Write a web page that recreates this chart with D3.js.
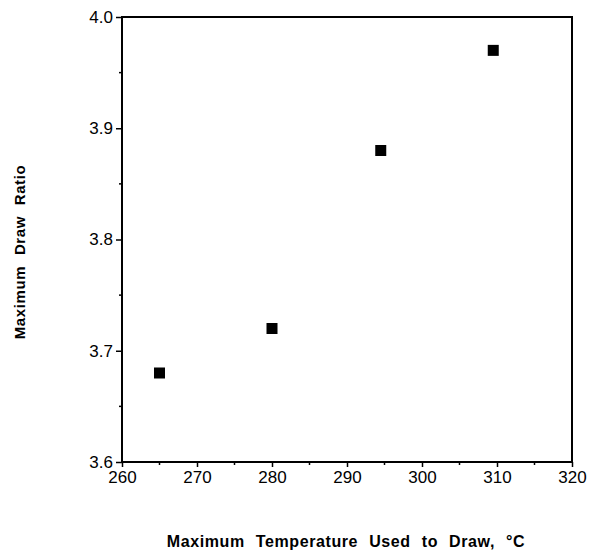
<!DOCTYPE html>
<html>
<head>
<meta charset="utf-8">
<script src="https://cdn.jsdelivr.net/npm/d3@7"></script>
<style>
  body { margin: 0; background: #fff; }
  text { font-family: "Liberation Sans", Arial, sans-serif; fill: #000; }
</style>
</head>
<body>
<div id="chart"></div>
<script>
// data
var temps = [265, 280, 294.5, 309.5];
var ratios = [3.68, 3.72, 3.88, 3.97];
var xTicks = [260, 270, 280, 290, 300, 310, 320];
var yTicks = [3.6, 3.7, 3.8, 3.9, 4.0];

var w = 592, h = 550;
var plotL = 122, plotR = 572, plotT = 17, plotB = 462;

var svg = d3.select("#chart").append("svg")
  .attr("width", w)
  .attr("height", h);

var x = d3.scaleLinear().domain([260, 320]).range([plotL, plotR]);
var y = d3.scaleLinear().domain([3.6, 4.0]).range([plotB, plotT]);

// frame
svg.append("rect")
  .attr("x", plotL).attr("y", plotT)
  .attr("width", plotR - plotL).attr("height", plotB - plotT)
  .attr("fill", "none").attr("stroke", "#000").attr("stroke-width", 2);

// minor ticks
var xMinor = d3.range(265, 320, 10);
svg.append("g").selectAll("line").data(xMinor).enter().append("line")
  .attr("x1", d => x(d)).attr("x2", d => x(d))
  .attr("y1", plotB).attr("y2", plotB + 3)
  .attr("stroke", "#000").attr("stroke-width", 1.5);
var yMinor = [3.65, 3.75, 3.85, 3.95];
svg.append("g").selectAll("line").data(yMinor).enter().append("line")
  .attr("x1", plotL - 3).attr("x2", plotL)
  .attr("y1", d => y(d)).attr("y2", d => y(d))
  .attr("stroke", "#000").attr("stroke-width", 1.5);

var xAxis = d3.axisBottom(x).tickValues(xTicks).tickSize(5).tickPadding(4)
  .tickFormat(d3.format("d"));
var yAxis = d3.axisLeft(y).tickValues(yTicks).tickSize(6).tickPadding(3)
  .tickFormat(d3.format(".1f"));

var gx = svg.append("g")
  .attr("transform", "translate(0," + plotB + ")")
  .call(xAxis);
var gy = svg.append("g")
  .attr("transform", "translate(" + plotL + ",0)")
  .call(yAxis);

[gx, gy].forEach(function(g) {
  g.select(".domain").remove();
  g.selectAll(".tick line").attr("stroke", "#000").attr("stroke-width", 1.5);
  g.selectAll(".tick text").attr("font-size", "17px");
});

// points
var s = 11;
svg.append("g").selectAll("rect").data(temps).enter().append("rect")
  .attr("x", (d) => x(d) - s / 2)
  .attr("y", (d, i) => y(ratios[i]) - s / 2)
  .attr("width", s).attr("height", s)
  .attr("fill", "#000");

// axis titles
svg.append("text")
  .attr("x", 346).attr("y", 547)
  .attr("text-anchor", "middle")
  .attr("font-size", "16px").attr("font-weight", "bold")
  .attr("letter-spacing", "0.6px")
  .attr("word-spacing", "6px")
  .text("Maximum Temperature Used to Draw, °C");

svg.append("text")
  .attr("transform", "translate(25,252) rotate(-90)")
  .attr("text-anchor", "middle")
  .attr("font-size", "15px").attr("font-weight", "bold")
  .attr("letter-spacing", "0.6px")
  .attr("word-spacing", "6px")
  .text("Maximum Draw Ratio");
</script>
</body>
</html>
